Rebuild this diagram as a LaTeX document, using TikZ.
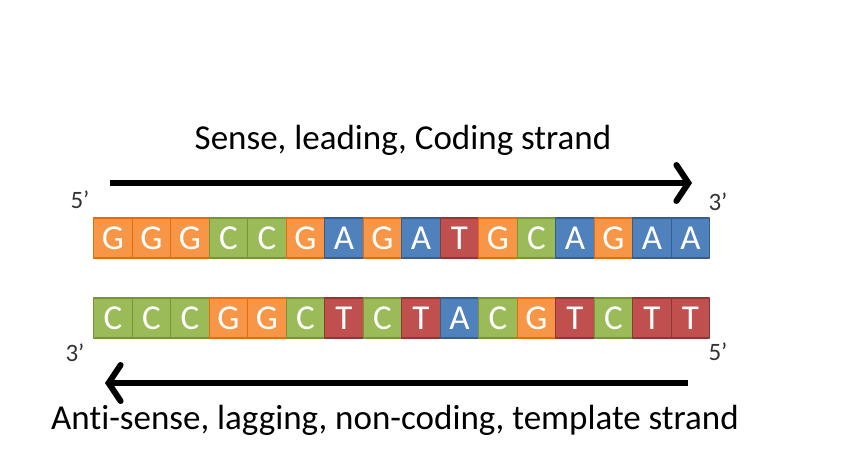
\documentclass[tikz,border=0pt]{standalone}
\usepackage{fontspec}
\setmainfont[Ligatures=NoCommon]{Carlito}
\usetikzlibrary{arrows.meta}
\definecolor{GFill}{HTML}{F79646}
\definecolor{GLine}{HTML}{E46C0A}
\definecolor{CFill}{HTML}{9BBB59}
\definecolor{CLine}{HTML}{77933C}
\definecolor{AFill}{HTML}{4F81BD}
\definecolor{ALine}{HTML}{385D8A}
\definecolor{TFill}{HTML}{C0504D}
\definecolor{TLine}{HTML}{8C3836}

\begin{document}
\begin{tikzpicture}[x=1pt,y=-1pt, line join=round,
  base/.style={draw, line width=1.3pt, minimum width=38.5pt, minimum height=40pt, inner sep=0pt,
               text=white, font=\fontsize{35}{35}\selectfont, anchor=west},
  nucG/.style={base, fill=GFill, draw=GLine},
  nucC/.style={base, fill=CFill, draw=CLine},
  nucA/.style={base, fill=AFill, draw=ALine},
  nucT/.style={base, fill=TFill, draw=TLine},
  strand/.style={line width=6pt, -{Straight Barb[length=12pt,width=36pt,line cap=round]}},
  endlbl/.style={font=\fontsize{25}{25}\selectfont, text=black!80}]
\useasboundingbox (0,0) rectangle (868,474);

% title
\node[font=\fontsize{35}{35}\selectfont] (sense) at (403,140) {Sense, leading, Coding strand};

% sense arrow
\coordinate (senseL) at (110,183);
\coordinate (senseR) at (692,183);
\draw[strand] (senseL) -- (senseR);
\node[endlbl] (s5) at (80,200) {5’};
\node[endlbl] (s3) at (718,202) {3’};

% top strand
\foreach \b [count=\i] in {G,G,G,C,C,G,A,G,A,T,G,C,A,G,A,A}
  \node[nuc\b] (top\i) at ({93+(\i-1)*38.5},238) {\b};

% bottom strand
\foreach \b [count=\i] in {C,C,C,G,G,C,T,C,T,A,C,G,T,C,T,T}
  \node[nuc\b] (bot\i) at ({93+(\i-1)*38.5},318) {\b};

% antisense arrow
\node[endlbl] (a3) at (75,353) {3’};
\node[endlbl] (a5) at (718,352) {5’};
\coordinate (antiR) at (688,383);
\coordinate (antiL) at (105,383);
\draw[strand] (antiR) -- (antiL);

\node[font=\fontsize{35}{35}\selectfont] (anti) at (395,420) {Anti-sense, lagging, non-coding, template strand};

\end{tikzpicture}
\end{document}
